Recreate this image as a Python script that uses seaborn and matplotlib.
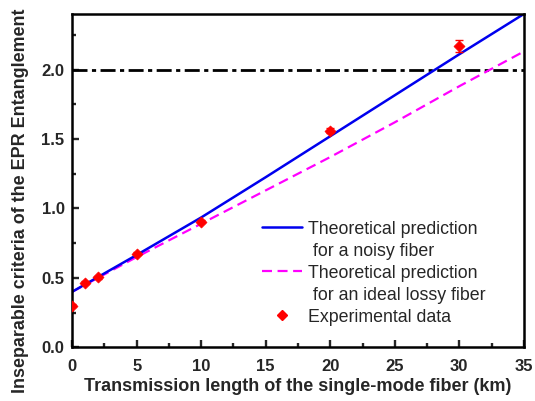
import numpy as np
import pandas as pd
import matplotlib
matplotlib.use("Agg")
import matplotlib.pyplot as plt
import seaborn as sns
from matplotlib.lines import Line2D
from matplotlib.ticker import MultipleLocator

# === Data ===
length_km = [0, 5, 10, 15, 20, 25, 30, 35]
noisy_fiber = [0.40, 0.665, 0.935, 1.225, 1.52, 1.815, 2.11, 2.40]
lossy_fiber = [0.40, 0.65, 0.89, 1.13, 1.37, 1.62, 1.88, 2.13]

exp_length = [0, 1, 2, 5, 10, 20, 30]
exp_value = [0.30, 0.465, 0.505, 0.675, 0.905, 1.56, 2.17]
exp_err = [0.01, 0.01, 0.01, 0.01, 0.01, 0.02, 0.04]

threshold = 2.0

theory_df = pd.DataFrame({"L": length_km, "noisy": noisy_fiber, "lossy": lossy_fiber})
exp_df = pd.DataFrame({"L": exp_length, "I": exp_value, "err": exp_err})

# === Style ===
sns.set_theme(style="ticks")
plt.rcParams["font.family"] = ["Liberation Sans", "DejaVu Sans"]
plt.rcParams["font.weight"] = "bold"

fig = plt.figure(figsize=(5.35, 4.01), dpi=100)
ax = fig.add_axes([0.135, 0.134, 0.844, 0.831])

# threshold line
ax.axhline(threshold, color="black", lw=2.0, dashes=(5.4, 1.6, 1.5, 1.6))

sns.lineplot(data=theory_df, x="L", y="lossy", ax=ax, color="#ff00ff", lw=1.6)
ax.lines[-1].set_dashes((4.5, 2.5))
sns.lineplot(data=theory_df, x="L", y="noisy", ax=ax, color="#0000ee", lw=1.8)

ax.errorbar(exp_df["L"], exp_df["I"], yerr=exp_df["err"], fmt="none",
            ecolor="red", elinewidth=1, capsize=3, zorder=4)
sns.scatterplot(data=exp_df, x="L", y="I", ax=ax, color="red", marker="D",
                s=32, edgecolor="red", zorder=5)

ax.set_xlim(0, 35)
ax.set_ylim(0, 2.4)
ax.xaxis.set_major_locator(MultipleLocator(5))
ax.xaxis.set_minor_locator(MultipleLocator(2.5))
ax.yaxis.set_major_locator(MultipleLocator(0.5))
ax.yaxis.set_minor_locator(MultipleLocator(0.25))
ax.tick_params(which="both", direction="in", top=False, right=False, width=1.7,
               labelsize=12)
ax.tick_params(axis="x", which="major", pad=8.5)
ax.tick_params(axis="y", which="major", pad=5.5)
ax.tick_params(which="major", length=5)
ax.tick_params(which="minor", length=3)
for lbl in ax.get_xticklabels() + ax.get_yticklabels():
    lbl.set_fontweight("bold")
for sp in ax.spines.values():
    sp.set_linewidth(1.8)
    sp.set_color("black")

ax.set_xlabel("Transmission length of the single-mode fiber (km)", fontsize=13.0,
              fontweight="bold", labelpad=3)
ax.set_ylabel("Inseparable criteria of the EPR Entanglement", fontsize=12.9, fontweight="bold")
ax.yaxis.set_label_coords(-0.095, 0.44)

# === Legend (second lines as blank-handle rows) ===
blank = Line2D([], [], color="none")
handles = [
    Line2D([], [], color="#0000ee", lw=1.8), blank,
    Line2D([], [], color="#ff00ff", lw=1.6, dashes=(4.5, 2.5)), blank,
    Line2D([], [], color="red", marker="D", ls="none", markersize=5.5),
]
labels = ["Theoretical prediction", " for a noisy fiber",
          "Theoretical prediction", " for an ideal lossy fiber",
          "Experimental data"]
leg = ax.legend(handles, labels, loc="upper left", bbox_to_anchor=(0.42, 0.38),
                frameon=False, fontsize=12.8, handlelength=2.25, handletextpad=0.35,
                labelspacing=0.28, borderpad=0, borderaxespad=0)
for t in leg.get_texts():
    t.set_fontweight("normal")

fig.savefig("out.png", dpi=100)
